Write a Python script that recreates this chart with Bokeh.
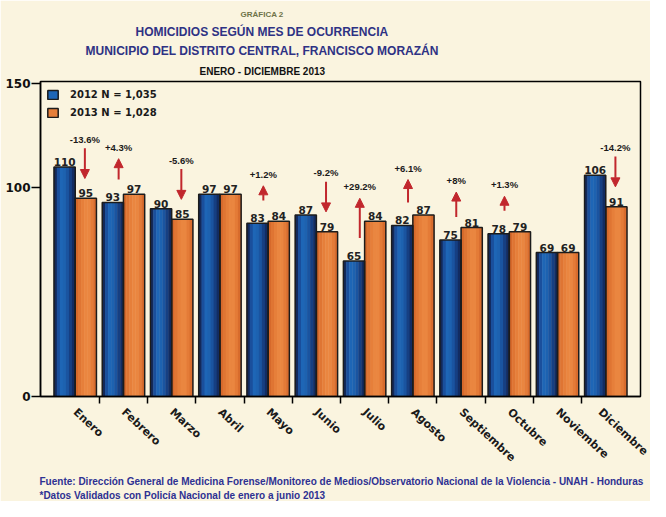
from bokeh.plotting import figure
from bokeh.models import (ColumnDataSource, Range1d, FixedTicker, LinearAxis, Title,
                          Legend, LegendItem, Arrow, NormalHead)
from bokeh.core.properties import value
from bokeh.embed import file_html
from bokeh.resources import INLINE

# ---------------- data ----------------
months = ["Enero", "Febrero", "Marzo", "Abril", "Mayo", "Junio", "Julio",
          "Agosto", "Septiembre", "Octubre", "Noviembre", "Diciembre"]
v2012 = [110, 93, 90, 97, 83, 87, 65, 82, 75, 78, 69, 106]
v2013 = [95, 97, 85, 97, 84, 79, 84, 87, 81, 79, 69, 91]
pct_labels = ["-13.6%", "+4.3%", "-5.6%", "", "+1.2%", "-9.2%", "+29.2%",
              "+6.1%", "+8%", "+1.3%", "", "-14.2%"]
y_ticks = [0, 100, 150]

# ---------------- style ----------------
BG = "#FAF4DF"
TITLE_BLUE = "#2E3284"
RED = "#C1272D"
BAR_W = 0.44
blue_strips = ["#13295a", "#1a4f9c", "#1e66b6", "#1d62b0", "#1a54a0", "#163f82", "#122c62"]
orange_strips = ["#d6692b", "#df7533", "#e67f3a", "#ea8640", "#ea8640", "#e47b37", "#d86c2d"]

W, H = 650, 501
FL, FR, FT, FB = 40, 640, 81, 398   # frame edges in canvas pixels
p = figure(width=W, height=H, output_backend="svg", toolbar_location=None,
           x_range=Range1d(-0.72, 11.72), y_range=Range1d(0, 151),
           min_border_left=FL, min_border_right=W - FR, min_border_top=FT,
           min_border_bottom=H - FB, x_axis_type=None, y_axis_type=None)
p.background_fill_color = BG
p.border_fill_color = BG
p.outline_line_color = "black"
p.outline_line_width = 1.5
p.xgrid.visible = False
p.ygrid.visible = False

idx = list(range(len(months)))
x12 = [i - BAR_W / 2 for i in idx]
x13 = [i + BAR_W / 2 for i in idx]
src = ColumnDataSource(dict(x12=x12, x13=x13, v12=v2012, v13=v2013))

# gradient-like bars made of vertical strips
n = len(blue_strips)
sw = BAR_W / n
rend12 = rend13 = None
for k in range(n):
    off = -BAR_W / 2 + sw * (k + 0.5)
    r1 = p.vbar(x=[xx + off for xx in x12], top=v2012, width=sw * 1.15, bottom=0,
                fill_color=blue_strips[k], line_color=None)
    r2 = p.vbar(x=[xx + off for xx in x13], top=v2013, width=sw * 1.15, bottom=0,
                fill_color=orange_strips[k], line_color=None)
    if k == 2:
        rend12, rend13 = r1, r2
o12 = p.vbar(x="x12", top="v12", width=BAR_W, source=src, fill_color=None,
             line_color="#1c1c1c", line_width=1.5)
o13 = p.vbar(x="x13", top="v13", width=BAR_W, source=src, fill_color=None,
             line_color="#1c1c1c", line_width=1.5)

# value labels
lab = ColumnDataSource(dict(x=x12 + x13, y=v2012 + v2013,
                            t=[str(v) for v in v2012 + v2013]))
p.text(x="x", y="y", text="t", source=lab, text_align="center", text_baseline="alphabetic",
       y_offset=-5, text_font=value("DejaVu Sans"), text_font_style="bold",
       text_font_size="10.5px", text_color="#222222")

# change arrows (placed relative to the bar values)
axs, ays, axe, aye, lx, ly, lt = [], [], [], [], [], [], []
for i, (a, b, t) in enumerate(zip(v2012, v2013, pct_labels)):
    if not t:
        continue
    if b < a:
        x = i + 0.2
        tip = b + 9.5
        tail = tip + 14.5
        ly.append(tail + 4.2)
    else:
        x = i - 0.1
        tail = a + 11
        tip = min(b + 17, a + 30)
        ly.append(tip + 5.5)
    axs.append(x); ays.append(tail); axe.append(x); aye.append(tip)
    lx.append(x); lt.append(t)

asrc = ColumnDataSource(dict(xs=axs, ys=ays, xe=axe, ye=aye))
p.add_layout(Arrow(end=NormalHead(size=9, fill_color=RED, line_color=RED, line_width=1),
                   x_start="xs", y_start="ys", x_end="xe", y_end="ye", source=asrc,
                   line_color=RED, line_width=2))
psrc = ColumnDataSource(dict(x=lx, y=ly, t=lt))
p.text(x="x", y="y", text="t", source=psrc, text_align="center", text_baseline="middle",
       text_font=value("Liberation Sans"), text_font_style="bold",
       text_font_size="9.5px", text_color="#1a1a1a")

# axes
yax = LinearAxis(ticker=FixedTicker(ticks=y_ticks, minor_ticks=[]))
yax.axis_line_color = "black"
yax.axis_line_width = 1.5
yax.major_tick_in = 0
yax.major_tick_out = 9
yax.major_tick_line_width = 1.5
yax.minor_tick_line_color = None
yax.major_label_standoff = 1
yax.major_label_text_font = "DejaVu Sans"
yax.major_label_text_font_style = "bold"
yax.major_label_text_font_size = "12px"
yax.major_label_text_color = "#111111"
p.add_layout(yax, "left")

xax = LinearAxis(ticker=FixedTicker(ticks=idx, minor_ticks=[i + 0.5 for i in idx[:-1]]))
xax.major_label_overrides = {i: m for i, m in enumerate(months)}
xax.axis_line_color = "black"
xax.axis_line_width = 1.5
xax.major_tick_line_color = None
xax.major_tick_in = 0
xax.major_tick_out = 7
xax.minor_tick_in = 0
xax.minor_tick_out = 7
xax.minor_tick_line_color = "black"
xax.minor_tick_line_width = 1.5
xax.major_label_orientation = -0.75
xax.major_label_standoff = 7
xax.major_label_text_font = "DejaVu Sans"
xax.major_label_text_font_style = "bold"
xax.major_label_text_font_size = "11px"
xax.major_label_text_color = "#1a1a1a"
p.add_layout(xax, "below")

# legend
legend = Legend(items=[
    LegendItem(label=f"2012 N = {sum(v2012):,}", renderers=[rend12, o12]),
    LegendItem(label=f"2013 N = {sum(v2013):,}", renderers=[rend13, o13]),
], location="top_left")
legend.margin = 6
legend.padding = 5
legend.spacing = 4
legend.glyph_width = 13
legend.glyph_height = 11
legend.label_height = 14
legend.label_standoff = 11
legend.background_fill_alpha = 0
legend.border_line_color = None
legend.label_text_font = "DejaVu Sans"
legend.label_text_font_style = "bold"
legend.label_text_font_size = "10px"
legend.label_text_color = "#1a1a1a"
p.add_layout(legend)

# titles: left-aligned with offsets so that each line is centred near x = 262
def style_title(t, size, color, offset, standoff, font="Liberation Sans"):
    t.align = "left"
    t.offset = offset
    t.standoff = standoff
    t.text_font = font
    t.text_font_style = "bold"
    t.text_font_size = size
    t.text_color = color
    t.text_line_height = 1.0
    return t

# p.title is drawn outermost; the others stack outward in the order added
p.title.text = "GRÁFICA 2"
style_title(p.title, "8px", "#6E7248", 200, 5)
p.add_layout(style_title(Title(text="ENERO - DICIEMBRE 2013"), "10px", "#111111", 159, 9),
             "above")
p.add_layout(style_title(Title(text="MUNICIPIO DEL DISTRITO CENTRAL, FRANCISCO MORAZÁN"),
                         "12px", TITLE_BLUE, 45, 3), "above")
p.add_layout(style_title(Title(text="HOMICIDIOS SEGÚN MES DE OCURRENCIA"),
                         "12px", TITLE_BLUE, 95, 3), "above")

p.add_layout(style_title(Title(text="Fuente: Dirección General de Medicina Forense/Monitoreo de "
                               "Medios/Observatorio Nacional de la Violencia - UNAH - Honduras"),
                         "10px", "#2E3192", -1, 2), "below")
p.add_layout(style_title(Title(text="*Datos Validados con Policía Nacional de enero a junio 2013"),
                         "10px", "#2E3192", -1, 1), "below")

open("out.html", "w").write(file_html(p, INLINE))
